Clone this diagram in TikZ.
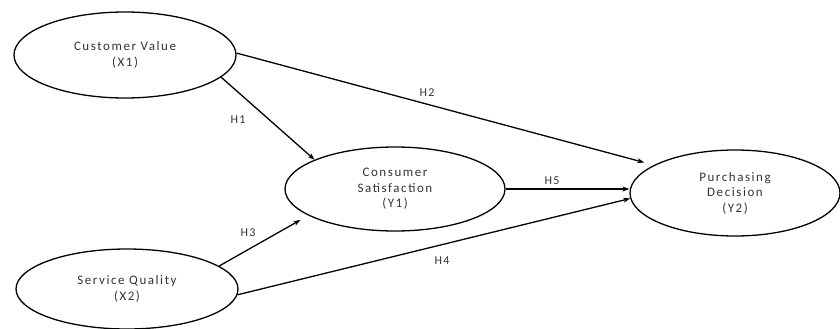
\documentclass[tikz,border=0pt]{standalone}
\usepackage{fontspec}
\setmainfont{Carlito}[LetterSpace=12]
\usetikzlibrary{shapes.geometric,arrows.meta}
\tikzset{
  construct/.style={draw,ellipse,line width=1.3pt,inner sep=0pt,align=center,
    text=black!80,font=\fontsize{13}{15.5}\selectfont},
  path/.style={line width=1.3pt,-{Stealth[length=7pt,width=5pt]}},
  hyp/.style={text=black!80,font=\fontsize{12}{14}\selectfont}
}
\begin{document}
\begin{tikzpicture}[x=1pt,y=-1pt]
  \useasboundingbox (0,0) rectangle (840,329);
  % latent variables
  \node[construct,minimum width=222pt,minimum height=86pt] (x1) at (125,55) {Customer Value\\(X1)};
  \node[construct,minimum width=222pt,minimum height=80pt] (x2) at (127,289) {Service Quality\\(X2)};
  \node[construct,minimum width=220pt,minimum height=84pt] (y1) at (395,189) {Consumer\\Satisfaction\\(Y1)};
  \node[construct,minimum width=210pt,minimum height=86pt] (y2) at (735,193) {Purchasing\\Decision\\(Y2)};
  % hypothesised paths
  \draw[path] (x1.-13) -- (y1.160);
  \draw[path,shorten >=10pt] (x1.1) -- (y2.161);
  \draw[path,shorten >=9pt] (x2.14) -- (y1.197);
  \draw[path] (x2.-3) -- (y2.183);
  \draw[path] (y1.east) -- (y1.east -| y2.west);
  \node[hyp] (h1) at (238,120) {H1};
  \node[hyp] (h2) at (427,93) {H2};
  \node[hyp] (h3) at (248,233) {H3};
  \node[hyp] (h4) at (442,261) {H4};
  \node[hyp] (h5) at (552,181) {H5};
\end{tikzpicture}
\end{document}
